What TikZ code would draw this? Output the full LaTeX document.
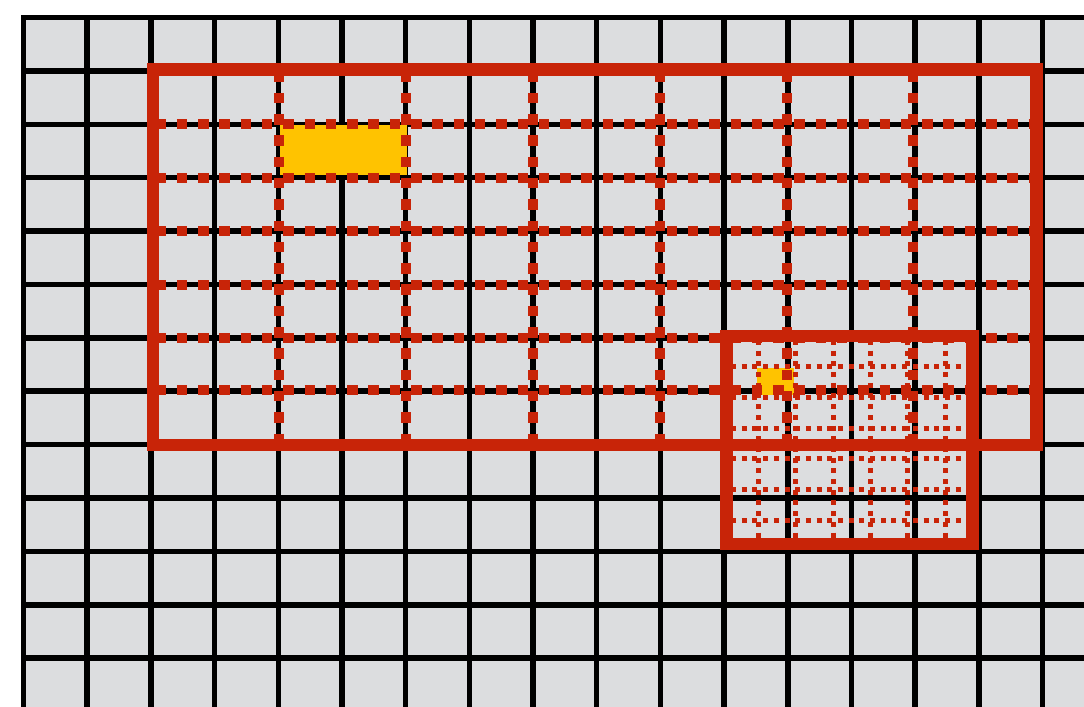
\documentclass[tikz,border=0pt]{standalone}
\begin{document}
\begin{tikzpicture}[x=0.02cm,y=-0.02cm]
  \definecolor{cellgray}{RGB}{220,221,223}
  \definecolor{zoomred}{RGB}{200,36,8}
  \definecolor{hityellow}{RGB}{255,195,0}
  \tikzset{
    gridline/.style={line width=0.11cm,line cap=rect},
    coarsedash/.style={zoomred,line width=0.2cm,dash pattern=on 0.21cm off 0.216cm},
    finedot/.style={zoomred,line width=0.1cm,dash pattern=on 0.1cm off 0.114cm},
    zoombox/.style={draw=zoomred,line width=0.254cm}
  }
  \useasboundingbox (0,0) rectangle (1084,706);
  \clip (0,0) rectangle (1084,706);

  \fill[cellgray] (23.5,17.5) rectangle (1100,720);
  \foreach \i in {0,...,16}
    {\draw[gridline] (23.5+63.69*\i,17.5) -- (23.5+63.69*\i,720);}
  \foreach \j in {0,...,13}
    {\draw[gridline] (23.5,17.5+53.39*\j) -- (1100,17.5+53.39*\j);}

  \fill[hityellow] (280,125) rectangle (407,175);
  \fill[hityellow] (757,368) rectangle (793.5,395);

  \foreach \y in {124.3,177.7,231.1,284.5,337.8,389.5}
    {\draw[coarsedash] (155.5,\y) -- (1030,\y);}
  \foreach \x in {279,406,533,660,787,913}
    {\draw[coarsedash] (\x,71.5) -- (\x,445);}
  \draw[zoombox] (153,69.7) rectangle (1036.5,445);

  \foreach \y in {366.7,397.4,428,458.7,489.3,520}
    {\draw[finedot] (731,\y) -- (961,\y);}
  \foreach \x in {758.3,795.7,833.1,870.5,907.9,945.3}
    {\draw[finedot] (\x,340) -- (\x,538);}
  \draw[zoombox] (726.3,336) rectangle (972.3,544);
\end{tikzpicture}
\end{document}
